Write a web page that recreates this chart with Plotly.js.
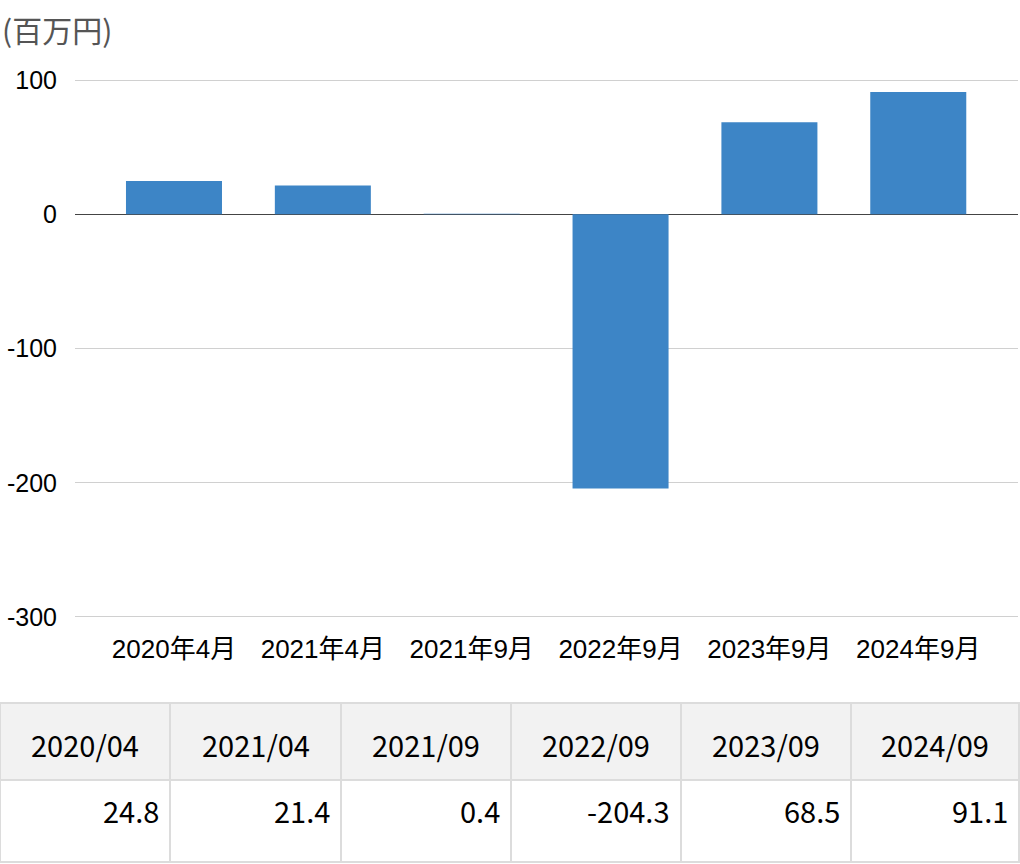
<!DOCTYPE html>
<html>
<head>
<meta charset="utf-8">
<script src="https://cdn.plot.ly/plotly-3.0.1.min.js"></script>
<style>html,body{margin:0;padding:0;background:#fff;}#chart{width:1020px;height:864px;}</style>
</head>
<body>
<div id="chart"></div>
<script>
const categories = ["2020年4月", "2021年4月", "2021年9月", "2022年9月", "2023年9月", "2024年9月"];
const tableHeaders = ["2020/04", "2021/04", "2021/09", "2022/09", "2023/09", "2024/09"];
const values = [24.8, 21.4, 0.4, -204.3, 68.5, 91.1];
const yTicks = [100, 0, -100, -200, -300];
const unitLabel = "(百万円)";

const W = 1020, H = 864;
const jp = '"Noto Sans CJK JP", "Noto Sans", sans-serif';
const arialJp = '"Liberation Sans", Arial, "Noto Sans CJK JP", sans-serif';

// y axis: 100 at 80px, -300 at 617px; pad range slightly so edge gridlines show
const yTopPx = 80, yBotPx = 617, yMax = 100, yMin = -300, pad = 2;
const pxPerUnit = (yBotPx - yTopPx) / (yMax - yMin);
const domTop = yTopPx - pad * pxPerUnit, domBot = yBotPx + pad * pxPerUnit;

const bar = {
  type: 'bar',
  x: categories,
  y: values,
  marker: {color: '#3d85c6', line: {width: 0}},
  width: 0.645,
  hoverinfo: 'none'
};

// table geometry (layout only)
const colEdges = [0, 170, 341, 511, 681, 851, 1019];
const tTop = 703, tMid = 780, tBot = 862;
const py = p => 1 - p / H;
const px = p => p / W;
const lineCol = '#dcdcdc';

const shapes = [];
const annotations = [{
  text: unitLabel,
  xref: 'paper', yref: 'paper',
  x: 0, y: py(29),
  xanchor: 'left', yanchor: 'middle',
  showarrow: false,
  font: {family: jp, size: 30, color: '#555'}
}];

// header fill
shapes.push({type: 'rect', xref: 'paper', yref: 'paper', x0: 0, x1: 1, y0: py(tMid), y1: py(tTop),
  fillcolor: '#f2f2f2', line: {width: 0}, layer: 'below'});
// horizontal borders
[tTop, tMid, tBot].forEach(yy => shapes.push({type: 'line', xref: 'paper', yref: 'paper',
  x0: 0, x1: 1, y0: py(yy), y1: py(yy), line: {color: lineCol, width: 2}}));
// vertical borders
colEdges.forEach(xx => shapes.push({type: 'line', xref: 'paper', yref: 'paper',
  x0: px(xx), x1: px(xx), y0: py(tBot), y1: py(tTop), line: {color: lineCol, width: 2}}));

tableHeaders.forEach((h, i) => {
  const c = (colEdges[i] + colEdges[i + 1]) / 2;
  annotations.push({text: h, xref: 'paper', yref: 'paper', x: px(c), y: py(744),
    xanchor: 'center', yanchor: 'middle', showarrow: false,
    font: {family: jp, size: 29, color: '#000'}});
});
values.forEach((v, i) => {
  annotations.push({text: v.toFixed(1), xref: 'paper', yref: 'paper', x: px(colEdges[i + 1] - 9), y: py(810),
    xanchor: 'right', yanchor: 'middle', showarrow: false,
    font: {family: jp, size: 29, color: '#000'}});
});

const layout = {
  width: W, height: H,
  margin: {l: 0, r: 0, t: 0, b: 0},
  paper_bgcolor: '#fff', plot_bgcolor: '#fff',
  showlegend: false,
  xaxis: {
    domain: [75 / W, 1018 / W],
    type: 'category',
    range: [-0.665, 5.67],
    showgrid: false, zeroline: false, showline: false,
    ticks: '',
    tickfont: {family: arialJp, size: 26, color: '#000'},
    ticklabelstandoff: 11,
    fixedrange: true
  },
  yaxis: {
    domain: [1 - domBot / H, 1 - domTop / H],
    range: [yMin - pad, yMax + pad],
    tickvals: yTicks,
    ticktext: yTicks.map(String),
    showgrid: true, gridcolor: '#d0d0d0', gridwidth: 1,
    zeroline: true, zerolinecolor: '#444', zerolinewidth: 1.5,
    showline: false, ticks: '',
    tickfont: {family: '"Liberation Sans", Arial, sans-serif', size: 25, color: '#000'},
    ticklabelstandoff: 17,
    fixedrange: true
  },
  shapes: shapes,
  annotations: annotations
};

Plotly.newPlot('chart', [bar], layout, {displayModeBar: false, staticPlot: true});
</script>
</body>
</html>
